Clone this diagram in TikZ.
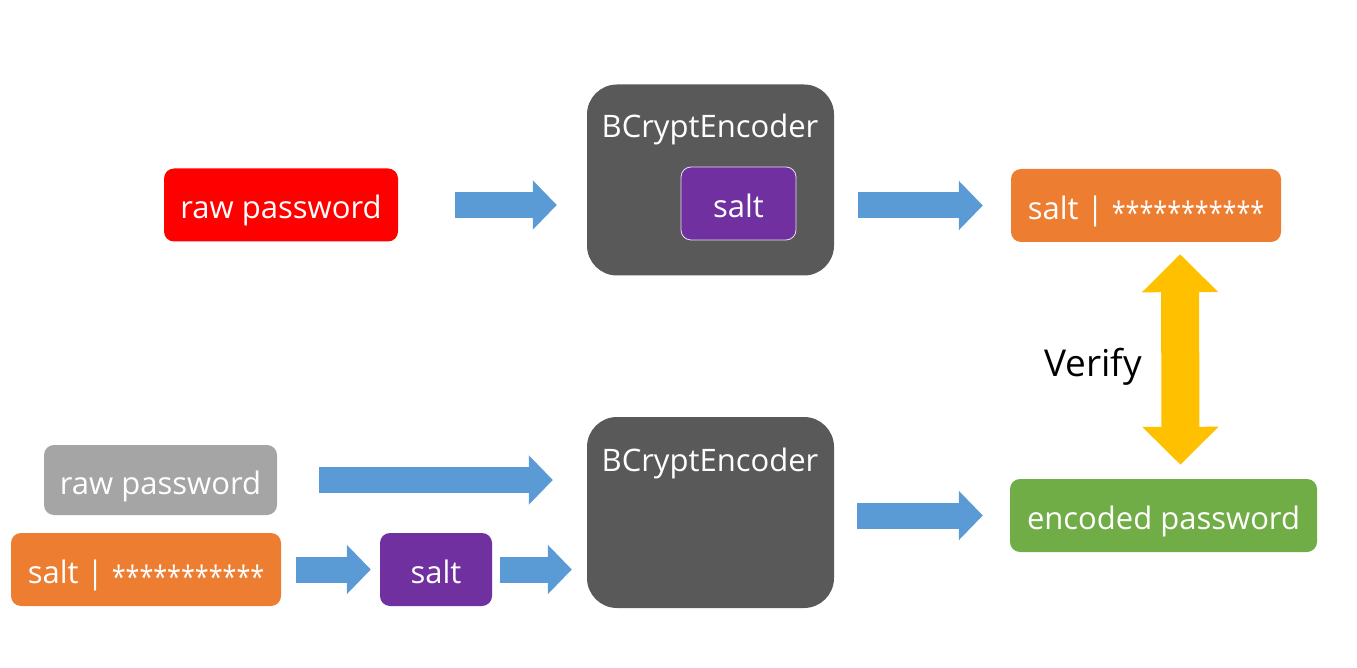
\documentclass[tikz,border=0pt]{standalone}
\usepackage{graphicx}
\usepackage{fontspec}
\setmainfont{Open Sans}
\usetikzlibrary{arrows.meta,positioning}
\definecolor{RawRed}{HTML}{FF0000}
\definecolor{RawGray}{HTML}{A5A5A5}
\definecolor{HashOrange}{HTML}{ED7D31}
\definecolor{SaltPurple}{HTML}{7030A0}
\definecolor{EncGreen}{HTML}{70AD47}
\definecolor{EncDark}{HTML}{595959}
\definecolor{FlowBlue}{HTML}{5B9BD5}
\definecolor{VerifyGold}{HTML}{FFC000}
\newcommand{\hashstars}{\raisebox{-5pt}{\scalebox{0.81}[1]{***********}}}

\begin{document}
\begin{tikzpicture}[x=1pt,y=-1pt,
    box/.style={rounded corners=10pt, minimum height=73pt, inner sep=0pt, text=white,
        font=\fontsize{31}{36}\selectfont, text height=28pt, text depth=0pt},
    encbox/.style={fill=EncDark, rounded corners=30pt, minimum width=247pt, minimum height=191pt},
    enctitle/.style={text=white, font=\fontsize{31}{36}\selectfont, text height=22pt, text depth=6pt},
    flow/.style={draw=FlowBlue, line width=26pt, -{Triangle[length=24pt,width=48pt]}},
    verifyarrow/.style={draw=VerifyGold, line width=38pt,
        {Triangle[length=38pt,width=74pt]}-{Triangle[length=38pt,width=74pt]}}]
    \useasboundingbox (0,0) rectangle (1357,668);

    % encoding
    \node[box, fill=RawRed, minimum width=234pt] (raw) at (281,205) {raw password};
    \node[encbox] (enc1) at (710.5,180) {};
    \node[enctitle] (title1) at (710,130) {BCryptEncoder};
    \node[box, fill=SaltPurple, draw=white!85!SaltPurple, line width=0.8pt, minimum width=115pt] (salt1) at (738.5,203.5) {salt};
    \node[box, fill=HashOrange, minimum width=270pt] (hash1) at (1146,205.5) {salt | \hashstars};

    % matching
    \node[encbox] (enc2) at (710.5,512.5) {};
    \node[enctitle] (title2) at (710,463) {BCryptEncoder};
    \node[box, fill=RawGray, minimum width=233pt, minimum height=70pt] (rawg) at (160.5,480) {raw password};
    \node[box, fill=HashOrange, minimum width=270pt] (hash2) at (146,569.5) {salt | \hashstars};
    \node[box, fill=SaltPurple, minimum width=112pt] (salt2) at (436,569.5) {salt};
    \node[box, fill=EncGreen, minimum width=307pt] (encoded) at (1163.5,515.5) {encoded password};

    \draw[flow, shorten <=57pt, shorten >=30pt] (raw.east) -- (raw.east -| enc1.west);
    \draw[flow, shorten <=24pt, shorten >=28pt] (enc1.east |- hash1.west) -- (hash1.west);
    \draw[flow, shorten <=42pt, shorten >=34pt] (rawg.east) -- (rawg.east -| enc2.west);
    \draw[flow, shorten <=15pt, shorten >=9pt] (hash2.east) -- (salt2.west);
    \draw[flow, shorten <=8pt, shorten >=15pt] (salt2.east) -- (salt2.east -| enc2.west);
    \draw[flow, shorten <=23pt, shorten >=27pt] (enc2.east |- encoded.west) -- (encoded.west);

    \draw[verifyarrow, shorten <=12pt, shorten >=14pt] ([xshift=34pt]hash1.south) -- node[anchor=east, xshift=-16pt, font=\fontsize{37}{42}\selectfont, text height=31pt, text depth=0pt] (verify) {Verify} ([xshift=17pt]encoded.north);
\end{tikzpicture}
\end{document}
